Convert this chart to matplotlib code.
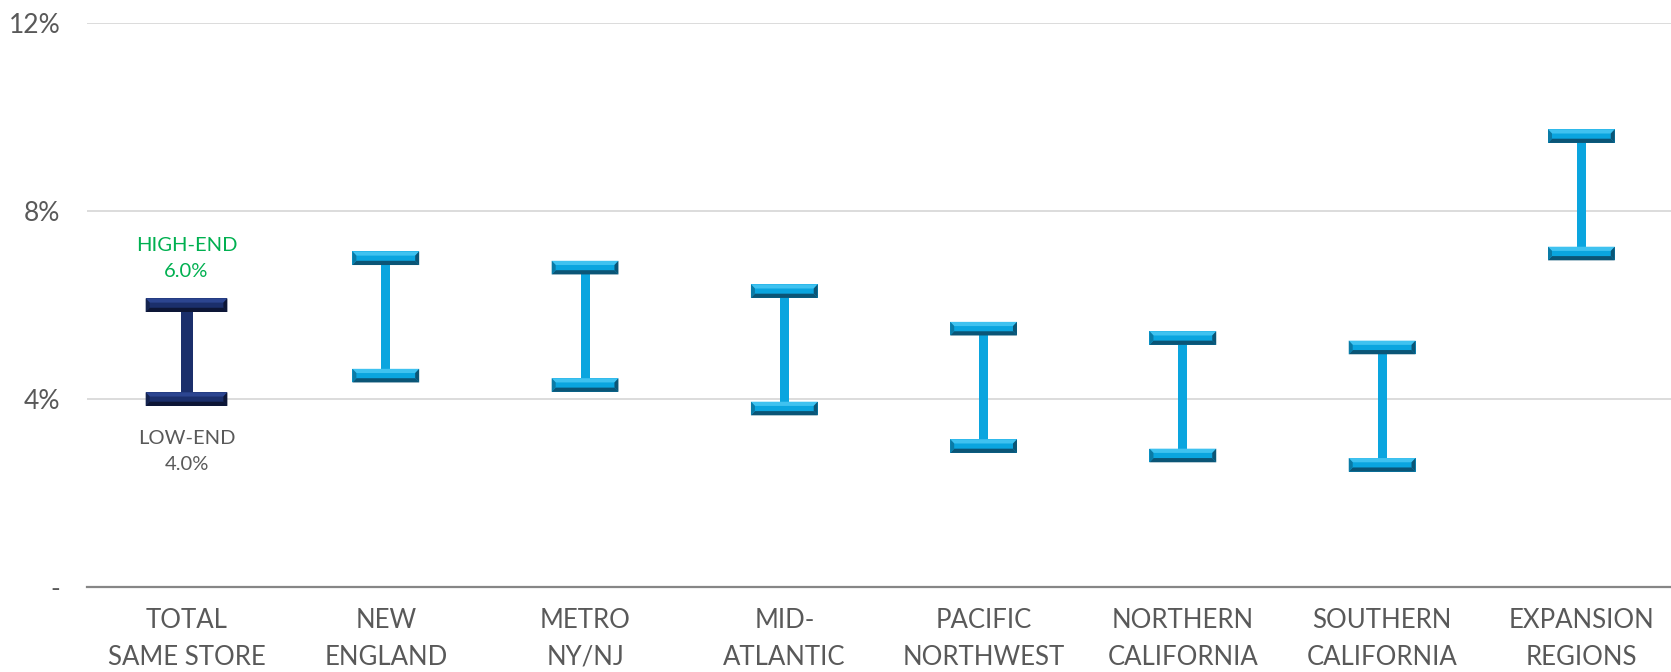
import matplotlib.pyplot as plt
from matplotlib.patches import Rectangle, Polygon

regions = ['TOTAL\nSAME STORE', 'NEW\nENGLAND', 'METRO\nNY/NJ', 'MID-\nATLANTIC',
           'PACIFIC\nNORTHWEST', 'NORTHERN\nCALIFORNIA', 'SOUTHERN\nCALIFORNIA',
           'EXPANSION\nREGIONS']
low_end = [4.0, 4.5, 4.3, 3.8, 3.0, 2.8, 2.6, 7.1]
high_end = [6.0, 7.0, 6.8, 6.3, 5.5, 5.3, 5.1, 9.6]
yticks = [0, 4, 8, 12]
ytick_labels = ['-', '4%', '8%', '12%']

plt.rcParams['font.family'] = ['Lato', 'DejaVu Sans']

grey = '#595959'
# face, top bevel, bottom bevel, side bevel
blue = ('#0AA5DF', '#3FC2F0', '#0B5576', '#0A7BA6')
navy = ('#1B2F6B', '#2C4590', '#0D1636', '#15244F')

cap_h = 0.29
bev_x = 0.02
bev_y = 0.09


def draw_cap(ax, xc, y, w, colors):
    face, light, dark, side = colors
    x0, x1 = xc - w / 2, xc + w / 2
    y0, y1 = y - cap_h / 2, y + cap_h / 2
    ax.add_patch(Rectangle((x0, y0), w, cap_h, fc=face, ec='none', zorder=3))
    ax.add_patch(Polygon([(x0, y1), (x1, y1), (x1 - bev_x, y1 - bev_y), (x0 + bev_x, y1 - bev_y)],
                         fc=light, ec='none', zorder=4))
    ax.add_patch(Polygon([(x0, y0), (x1, y0), (x1 - bev_x, y0 + bev_y), (x0 + bev_x, y0 + bev_y)],
                         fc=dark, ec='none', zorder=4))
    ax.add_patch(Polygon([(x0, y0), (x0, y1), (x0 + bev_x, y1 - bev_y), (x0 + bev_x, y0 + bev_y)],
                         fc=side, ec='none', zorder=4))
    ax.add_patch(Polygon([(x1, y0), (x1, y1), (x1 - bev_x, y1 - bev_y), (x1 - bev_x, y0 + bev_y)],
                         fc=dark, ec='none', zorder=4))


fig = plt.figure(figsize=(16.71, 6.72), dpi=100)
ax = fig.add_axes([0.052, 0.1265, 0.954, 0.8387])

for i, (lo, hi) in enumerate(zip(low_end, high_end)):
    colors = navy if i == 0 else blue
    w = 0.41 if i == 0 else 0.335
    stem_w = 0.06 if i == 0 else 0.045
    ax.bar(i, hi - lo - cap_h, bottom=lo + cap_h / 2, width=stem_w,
           color=colors[0], zorder=2)
    draw_cap(ax, i, hi, w, colors)
    draw_cap(ax, i, lo, w, colors)

ax.text(0, 6.99, f'HIGH-END\n{high_end[0]:.1f}%', color='#00B050', fontsize=14.5,
        ha='center', va='center', linespacing=1.65)
ax.text(0, 2.88, f'LOW-END\n{low_end[0]:.1f}%', color=grey, fontsize=14.5,
        ha='center', va='center', linespacing=1.65)

ax.set_xlim(-0.5, 7.5)
ax.set_ylim(0, 12)
ax.set_yticks(yticks, ytick_labels, fontsize=19, color=grey)
ax.set_xticks(range(len(regions)), regions, fontsize=18.5, color=grey, linespacing=1.6)
ax.tick_params(axis='both', length=0)
ax.tick_params(axis='y', pad=19)
ax.tick_params(axis='x', pad=15)
ax.grid(axis='y', color='#D9D9D9', lw=1.3, zorder=0)
ax.set_axisbelow(True)
for s in ['top', 'right', 'left']:
    ax.spines[s].set_visible(False)
ax.spines['bottom'].set_color('#868686')
ax.spines['bottom'].set_linewidth(1.6)
ax.spines['bottom'].set_zorder(1)

fig.savefig('out.png', dpi=100)
